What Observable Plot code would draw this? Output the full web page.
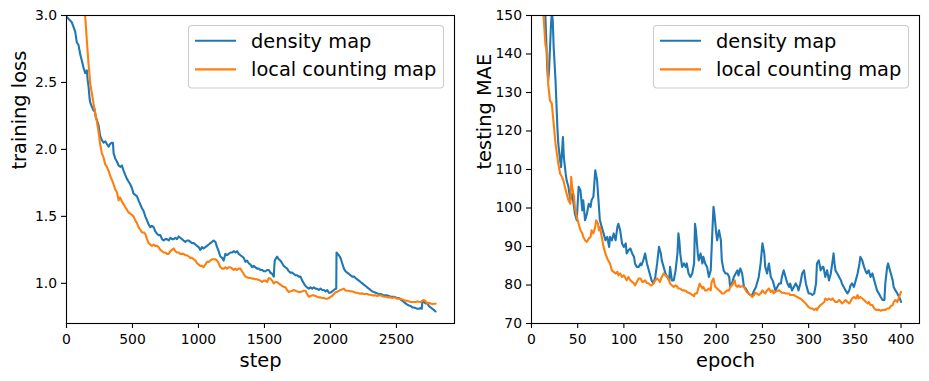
<!DOCTYPE html>
<html>
<head>
<meta charset="utf-8">
<script src="https://cdn.jsdelivr.net/npm/d3@7"></script>
<script src="https://cdn.jsdelivr.net/npm/@observablehq/plot@0.6"></script>
<style>
  html, body { margin: 0; padding: 0; background: #fff; }
  #wrap { position: relative; width: 929px; height: 381px; overflow: hidden; background: #fff; }
  #left, #right, #legends { position: absolute; top: 0; }
  #left { left: 0; }
  #right { left: 465px; }
  #legends { left: 0; pointer-events: none; }
</style>
</head>
<body>
<div id="wrap">
  <div id="left"></div>
  <div id="right"></div>
  <svg id="legends" width="929" height="381"></svg>
</div>
<script>
// ---------- series names / colours ----------
const seriesNames = ["density map", "local counting map"];
const seriesColors = ["#1f77b4", "#ff7f0e"];

// ---------- left panel: training loss vs step ----------
const lossXTicks = [0, 500, 1000, 1500, 2000, 2500];
const lossYTicks = [1.0, 1.5, 2.0, 2.5, 3.0];
const lossXLabel = "step";
const lossYLabel = "training loss";

const lossStepsDensity = [0,20,40,66,78,91,104,117,129,142,149,154,160,167,175,180,192,205,212,222,230,243,255,268,281,295,306,319,330,344,352,357,370,382,395,407,420,433,445,458,470,483,496,508,521,534,546,559,572,584,597,610,622,635,647,660,672,685,698,711,724,736,749,761,775,787,800,812,825,837,850,862,875,887,900,913,926,939,951,964,977,989,1002,1014,1027,1039,1052,1065,1078,1090,1103,1115,1128,1141,1153,1166,1179,1191,1204,1217,1229,1242,1255,1267,1280,1292,1305,1318,1330,1343,1356,1368,1381,1394,1407,1419,1432,1444,1457,1469,1482,1495,1508,1520,1533,1545,1558,1571,1574,1578,1589,1596,1608,1621,1634,1646,1659,1672,1684,1697,1710,1722,1735,1748,1760,1773,1786,1798,1811,1823,1836,1849,1862,1874,1887,1899,1912,1925,1938,1950,1963,1976,1988,2001,2013,2026,2038,2044,2046,2055,2064,2076,2089,2102,2114,2127,2140,2152,2165,2178,2190,2203,2216,2228,2241,2253,2266,2279,2291,2304,2317,2329,2342,2355,2367,2380,2393,2405,2418,2430,2443,2456,2468,2481,2494,2507,2519,2532,2545,2557,2570,2583,2595,2608,2621,2633,2646,2658,2671,2684,2692,2697,2709,2722,2734,2747,2759,2772,2785,2797];
const lossDensity = [2.99,2.97,2.95,2.88,2.80,2.78,2.71,2.66,2.61,2.57,2.58,2.59,2.52,2.47,2.38,2.35,2.32,2.29,2.30,2.24,2.22,2.18,2.10,2.07,2.05,2.06,2.04,2.02,2.04,2.05,2.05,1.97,1.93,1.91,1.88,1.87,1.88,1.84,1.81,1.78,1.76,1.74,1.71,1.67,1.66,1.65,1.62,1.59,1.56,1.54,1.50,1.47,1.44,1.42,1.43,1.42,1.39,1.37,1.36,1.36,1.33,1.32,1.33,1.33,1.32,1.34,1.33,1.33,1.34,1.33,1.35,1.34,1.33,1.32,1.31,1.32,1.32,1.31,1.30,1.30,1.29,1.28,1.27,1.25,1.27,1.26,1.27,1.28,1.29,1.30,1.31,1.32,1.31,1.27,1.24,1.20,1.19,1.17,1.22,1.21,1.22,1.23,1.23,1.24,1.23,1.24,1.22,1.21,1.20,1.19,1.16,1.17,1.15,1.14,1.12,1.13,1.12,1.11,1.11,1.10,1.10,1.09,1.09,1.10,1.10,1.08,1.07,1.05,1.12,1.17,1.19,1.20,1.18,1.17,1.15,1.13,1.12,1.11,1.09,1.08,1.08,1.07,1.06,1.06,1.05,1.05,1.02,1.00,0.98,0.97,0.96,0.97,0.96,0.97,0.96,0.96,0.95,0.96,0.95,0.95,0.94,0.95,0.93,0.93,0.94,0.95,0.96,0.96,1.23,1.22,1.21,1.19,1.15,1.11,1.09,1.08,1.07,1.06,1.05,1.05,1.04,1.03,1.02,1.01,1.00,0.99,0.98,0.97,0.96,0.95,0.94,0.935,0.93,0.925,0.92,0.92,0.915,0.91,0.91,0.91,0.905,0.90,0.90,0.90,0.895,0.89,0.89,0.88,0.87,0.86,0.85,0.84,0.835,0.83,0.82,0.82,0.815,0.81,0.81,0.815,0.81,0.87,0.86,0.85,0.85,0.83,0.82,0.81,0.80,0.79];

const lossStepsLocal = [120,142,155,167,180,192,205,218,230,243,255,268,281,293,306,319,332,345,357,370,382,395,402,407,420,433,445,458,470,483,496,508,521,534,546,559,572,584,597,610,622,635,647,660,672,685,698,711,724,736,749,761,774,787,800,812,825,837,850,862,875,887,900,913,926,939,951,964,977,989,1002,1014,1027,1039,1052,1065,1078,1090,1103,1115,1128,1141,1153,1166,1179,1191,1204,1217,1229,1242,1255,1267,1280,1292,1305,1318,1330,1343,1356,1368,1381,1394,1407,1419,1432,1444,1457,1469,1482,1495,1508,1520,1533,1545,1558,1571,1584,1596,1608,1621,1634,1646,1659,1672,1684,1697,1710,1722,1735,1748,1760,1773,1786,1798,1811,1823,1836,1849,1862,1874,1887,1899,1912,1925,1938,1950,1963,1976,1988,2001,2013,2026,2038,2051,2064,2077,2089,2102,2114,2127,2140,2152,2165,2178,2190,2203,2216,2228,2241,2253,2266,2279,2291,2304,2317,2329,2342,2355,2367,2380,2393,2405,2418,2430,2443,2456,2468,2481,2494,2507,2519,2532,2545,2557,2570,2583,2595,2608,2621,2633,2646,2658,2671,2684,2697,2709,2722,2734,2747,2759,2772,2785,2797];
const lossLocal = [3.30,2.99,2.80,2.64,2.49,2.42,2.34,2.27,2.21,2.13,2.04,1.97,1.94,1.89,1.87,1.84,1.80,1.77,1.74,1.70,1.68,1.62,1.64,1.64,1.61,1.59,1.57,1.55,1.53,1.52,1.51,1.50,1.47,1.45,1.42,1.40,1.38,1.38,1.37,1.33,1.30,1.29,1.28,1.29,1.28,1.28,1.27,1.25,1.24,1.23,1.23,1.22,1.22,1.24,1.25,1.26,1.24,1.23,1.23,1.22,1.22,1.22,1.21,1.21,1.20,1.19,1.19,1.18,1.17,1.15,1.14,1.13,1.13,1.12,1.14,1.16,1.16,1.17,1.18,1.18,1.18,1.17,1.15,1.12,1.11,1.11,1.12,1.11,1.12,1.12,1.11,1.10,1.11,1.10,1.11,1.11,1.09,1.07,1.05,1.045,1.04,1.04,1.035,1.035,1.03,1.03,1.025,1.02,1.01,1.02,1.02,1.01,1.04,1.035,1.02,1.00,1.01,1.01,1.00,0.99,0.98,0.975,0.97,0.95,0.935,0.94,0.945,0.95,0.945,0.94,0.935,0.935,0.94,0.945,0.945,0.92,0.90,0.905,0.91,0.91,0.905,0.90,0.895,0.895,0.89,0.89,0.885,0.885,0.89,0.90,0.905,0.92,0.935,0.935,0.945,0.95,0.955,0.96,0.945,0.945,0.945,0.94,0.94,0.935,0.93,0.93,0.925,0.923,0.925,0.92,0.92,0.92,0.915,0.915,0.91,0.91,0.91,0.905,0.91,0.91,0.905,0.90,0.90,0.897,0.895,0.895,0.89,0.895,0.89,0.885,0.885,0.885,0.88,0.875,0.87,0.87,0.865,0.86,0.86,0.86,0.86,0.865,0.862,0.86,0.87,0.875,0.865,0.85,0.855,0.85,0.845,0.848,0.848];

// ---------- right panel: testing MAE vs epoch ----------
const maeXTicks = [0, 50, 100, 150, 200, 250, 300, 350, 400];
const maeYTicks = [70, 80, 90, 100, 110, 120, 130, 140, 150];
const maeXLabel = "epoch";
const maeYLabel = "testing MAE";

const maeEpochsDensity = [14,15,17,18,19,21,22,23,24,26,28,29,31,32,34,35,37,38,40,42,44,46,47,49,51,53,55,56,58,60,62,64,65,67,69,71,73,74,76,78,80,82,84,85,87,89,91,93,94,96,98,100,102,103,105,107,109,111,112,114,116,118,119,121,123,125,127,129,130,132,134,136,138,140,141,143,145,147,149,150,152,154,156,158,159,160,161,163,165,167,168,170,172,174,176,177,178,180,181,183,185,186,188,190,192,194,196,197,198,200,201,203,205,206,208,210,212,214,215,217,219,221,223,224,226,228,230,232,233,235,237,239,241,243,244,246,248,250,252,253,255,257,259,261,262,264,266,268,270,271,273,275,277,279,280,282,284,286,288,289,291,293,295,297,299,300,302,304,306,308,309,311,313,315,316,318,320,322,324,326,327,328,329,331,333,335,336,338,340,342,344,345,347,349,351,353,355,356,358,360,362,363,365,367,369,371,373,374,376,378,380,382,383,385,386,387,389,391,392,394,396,398,400];
const maeDensity = [156,150,136.6,133.1,135.7,147.0,151,148.7,141.8,133.1,121.0,116.7,112.4,110.6,118.4,113.2,108.9,107.2,105.5,102.0,103.7,100.3,98.5,96.8,105.5,104.6,99.4,102.0,96.8,98.5,101.1,100.3,102.0,102.9,109.8,107.2,100.3,96.8,95.1,93.4,91.6,92.5,89.9,92.5,91.6,93.4,91.6,95.1,95.9,94.2,90.8,89.9,90.8,88.2,89.0,89.5,88.2,87.3,85.6,84.7,84.7,85.6,85.1,86.4,88.2,85.6,83.8,82.1,81.2,80.4,82.1,85.6,89.9,88.2,86.4,84.7,83.0,82.1,81.2,84.7,81.2,81.2,83.8,88.2,93.4,91.6,88.2,84.7,85.6,84.7,85.6,83.0,82.1,83.0,85.6,95.9,94.2,88.2,86.4,88.2,85.6,87.3,85.6,84.7,82.1,83.8,95.1,100.3,98.5,93.4,91.6,94.2,91.6,86.4,83.8,83.0,83.0,82.1,79.5,80.4,82.1,83.0,83.8,82.5,84.3,83.0,79.5,79.1,78.6,77.8,77.4,77.4,78.6,79.5,80.4,82.1,85.6,90.8,88.2,84.7,83.0,85.6,82.1,81.2,80.4,78.6,79.5,80.4,80.4,82.1,83.8,82.1,80.4,79.5,80.4,78.6,79.5,80.4,79.5,78.6,80.4,83.0,83.8,80.4,78.6,77.8,77.8,77.4,77.8,80.4,85.6,86.4,83.8,84.7,84.7,82.1,83.8,81.2,83.0,86.4,88.2,85.6,83.8,83.0,82.1,81.2,80.4,79.5,78.6,77.8,78.6,79.7,80.4,79.5,81.2,83.0,85.6,87.3,86.4,84.7,83.4,83.0,83.8,82.1,83.0,81.2,79.5,78.6,77.8,76.9,76.1,76.1,80.4,84.7,85.6,84.7,83.0,81.2,79.5,78.6,77.8,76.9,75.6];

const maeEpochsLocal = [12,13,15,17,18,20,22,24,26,28,29,31,33,35,36,38,40,42,43,44,46,47,49,51,53,55,56,58,60,62,64,65,67,69,70,72,73,74,76,78,80,82,83,85,87,89,91,93,94,96,98,100,102,103,105,107,109,111,112,114,116,118,120,121,123,125,127,129,130,132,134,136,138,139,141,143,145,147,149,150,152,154,156,158,159,161,163,165,167,168,170,172,174,176,177,179,181,182,184,185,186,188,190,192,194,195,197,198,199,201,203,205,206,208,210,212,214,215,217,219,220,221,223,224,226,228,230,232,233,235,237,239,241,242,244,246,248,250,251,253,255,257,259,261,262,264,266,268,270,271,273,275,277,279,280,282,284,286,288,289,291,293,295,297,298,300,302,304,306,308,309,311,313,315,317,318,320,322,324,326,327,329,331,333,335,336,338,340,342,344,345,347,349,351,353,354,356,358,360,362,364,365,367,369,371,373,374,376,378,380,382,383,385,387,389,391,392,394,396,398,400];
const maeLocal = [156,150,142.6,140.1,132.3,127.9,127.1,121.9,116.7,113.2,111.5,108.9,108.1,106.8,105.5,103.7,102.0,101.1,108.1,105.5,102.9,100.3,97.7,95.9,94.2,93.4,92.5,91.6,91.2,92.1,92.5,94.2,93.4,95.1,96.8,95.9,94.2,95.1,92.5,89.9,88.2,86.9,86.4,85.6,83.8,83.4,83.0,83.4,82.5,83.0,82.1,82.5,81.7,81.2,82.1,81.2,80.8,80.4,79.9,80.8,81.7,81.7,80.8,80.8,81.2,80.5,80.4,79.9,79.9,80.4,81.2,81.7,81.2,80.8,82.1,83.0,82.5,82.1,81.2,80.4,79.9,79.5,79.9,79.5,79.1,79.1,78.6,78.6,78.5,78.2,78.0,77.8,77.4,77.1,77.8,77.8,79.5,80.4,79.5,79.1,79.5,78.6,78.6,79.1,78.6,80.8,81.7,80.4,79.5,79.1,78.6,78.2,77.8,77.8,78.2,78.6,78.6,79.5,79.9,80.8,81.2,79.9,79.5,79.9,79.5,79.7,79.5,78.6,78.2,77.8,77.4,76.9,77.4,78.0,77.8,77.4,77.8,78.6,78.2,77.8,78.6,79.1,78.2,78.6,77.8,78.2,78.5,78.6,78.2,78.0,78.0,77.8,77.8,77.8,77.4,77.4,77.4,77.1,76.9,76.7,76.5,76.1,75.6,75.2,74.8,74.3,73.9,73.9,73.5,73.9,73.5,74.3,74.8,75.2,75.6,76.5,76.1,76.5,76.1,76.5,76.1,75.6,75.6,76.1,75.6,75.2,75.6,76.1,75.6,75.2,75.6,76.5,76.9,76.5,77.4,76.5,76.9,76.5,76.1,75.6,75.2,75.6,74.8,74.8,73.9,73.5,73.5,73.6,73.3,73.5,73.6,73.5,73.9,73.9,74.5,74.8,75.6,76.1,75.6,76.9,78.2];

// ---------- drawing ----------
const FONT = "'DejaVu Sans', 'Liberation Sans', sans-serif";
const TICK_FS = 13.9;
const LABEL_FS = 19.4;

function panel({width, marginLeft, marginRight, xDomain, yDomain, xTicks, yTicks, yFormat,
                xLabel, yLabel, xA, yA, xB, yB}) {
  return Plot.plot({
    width, height: 381,
    marginTop: 15, marginBottom: 58, marginLeft, marginRight,
    style: {fontFamily: FONT, fontSize: TICK_FS + "px", color: "black", background: "white", overflow: "visible"},
    x: {domain: xDomain},
    y: {domain: yDomain},
    marks: [
      Plot.line({length: xA.length}, {x: xA, y: yA, stroke: seriesColors[0], strokeWidth: 2.1, clip: true, strokeLinejoin: "round"}),
      Plot.line({length: xB.length}, {x: xB, y: yB, stroke: seriesColors[1], strokeWidth: 2.1, clip: true, strokeLinejoin: "round"}),
      Plot.frame({stroke: "black", strokeWidth: 1.1}),
      Plot.axisX({ticks: xTicks, tickFormat: d3.format("d"), tickSize: 5, tickPadding: 5.4, label: null, stroke: "black", strokeWidth: 1.1, fill: "black"}),
      Plot.axisY({ticks: yTicks, tickFormat: yFormat, tickSize: 5, tickPadding: 4.5, label: null, stroke: "black", strokeWidth: 1.1, fill: "black"}),
      Plot.text([xLabel], {text: d => d, frameAnchor: "bottom", dy: 36.8, lineAnchor: "middle", fontSize: LABEL_FS, fill: "black"}),
      Plot.text([yLabel], {text: d => d, frameAnchor: "left", dx: -46.7, rotate: -90, lineAnchor: "middle", fontSize: LABEL_FS, fill: "black"})
    ]
  });
}

document.getElementById("left").append(panel({
  width: 465, marginLeft: 66, marginRight: 11,
  xDomain: [0, 2940], yDomain: [0.70, 3.0],
  xTicks: lossXTicks, yTicks: lossYTicks, yFormat: d3.format(".1f"),
  xLabel: lossXLabel, yLabel: lossYLabel,
  xA: lossStepsDensity, yA: lossDensity, xB: lossStepsLocal, yB: lossLocal
}));

document.getElementById("right").append(panel({
  width: 464, marginLeft: 66, marginRight: 10,
  xDomain: [0, 420], yDomain: [70, 150],
  xTicks: maeXTicks, yTicks: maeYTicks, yFormat: d3.format("d"),
  xLabel: maeXLabel, yLabel: maeYLabel,
  xA: maeEpochsDensity, yA: maeDensity, xB: maeEpochsLocal, yB: maeLocal
}));

// ---------- legends (matplotlib-style boxes, upper right) ----------
const legendSvg = d3.select("#legends");
[188, 653].forEach(left => {
  const g = legendSvg.append("g").attr("transform", `translate(${left},25)`);
  g.append("rect").attr("x", 0.5).attr("y", 0.5).attr("width", 255).attr("height", 62.5)
    .attr("rx", 3.5).attr("fill", "white").attr("fill-opacity", 0.8)
    .attr("stroke", "#cccccc").attr("stroke-width", 1.1);
  seriesNames.forEach((name, i) => {
    const yLine = 15.8 + i * 28.6;
    g.append("line").attr("x1", 7).attr("x2", 48).attr("y1", yLine).attr("y2", yLine)
      .attr("stroke", seriesColors[i]).attr("stroke-width", 2.1);
    g.append("text").attr("x", 63).attr("y", yLine + 7)
      .attr("font-family", FONT).attr("font-size", LABEL_FS).attr("fill", "black")
      .text(name);
  });
});
</script>
</body>
</html>
